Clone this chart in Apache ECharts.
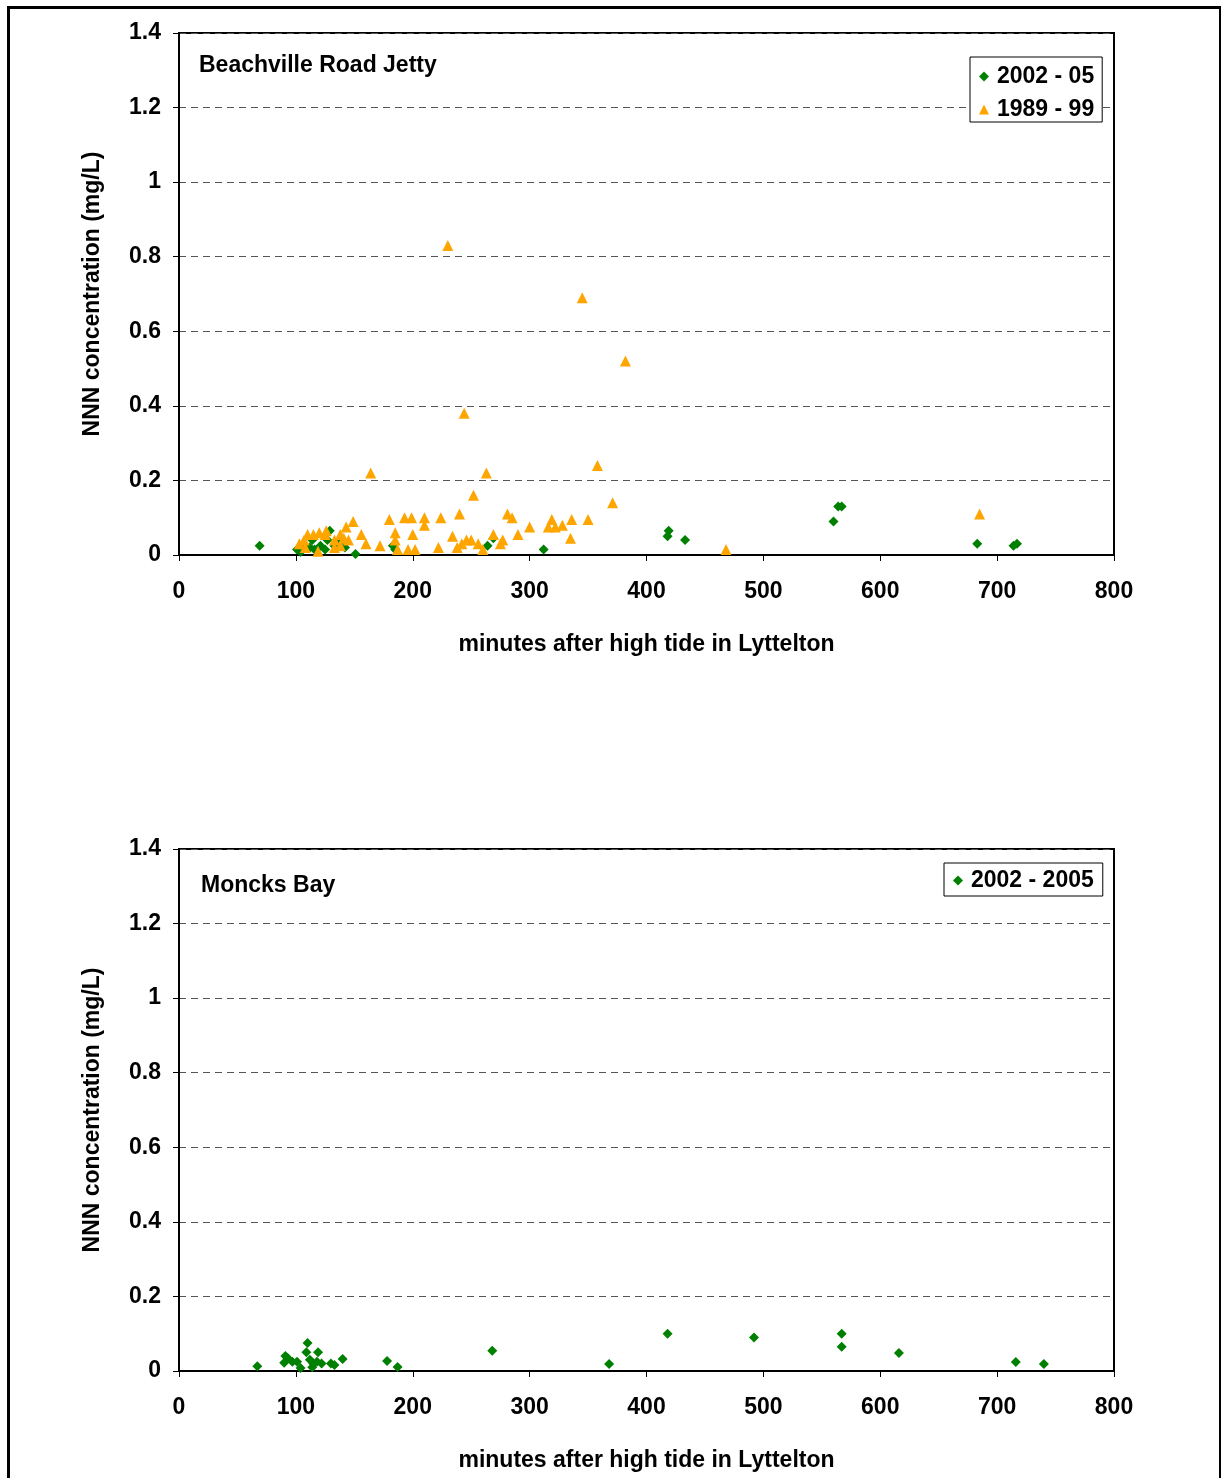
<!DOCTYPE html>
<html>
<head>
<meta charset="utf-8">
<script src="https://cdn.jsdelivr.net/npm/echarts@6/dist/echarts.min.js"></script>
<style>
html,body{margin:0;padding:0;background:#fff;}
#frame{position:absolute;left:7px;top:6px;width:1209px;height:1500px;border-left:3px solid #000;border-top:3px solid #000;border-right:2px solid #000;}
#c{position:absolute;left:0;top:0;width:1224px;height:1478px;}
</style>
</head>
<body>
<div id="frame"></div>
<div id="c"></div>
<script>
// ---- data ----
const xTicks = [0, 100, 200, 300, 400, 500, 600, 700, 800];
const yTicks = [0, 0.2, 0.4, 0.6, 0.8, 1, 1.2, 1.4];

const titleTop = "Beachville Road Jetty";
const titleBottom = "Moncks Bay";
const xName = "minutes after high tide in Lyttelton";
const yName = "NNN concentration (mg/L)";

const nameTopRecent = "2002 - 05";
const nameTopOld = "1989 - 99";
const nameBottom = "2002 - 2005";

// Beachville Road Jetty, 2002-05 (green diamonds)
const beachRecent = [
  [69,0.025],[101,0.015],[104,0.008],[108,0.025],[112,0.02],[114,0.04],[116,0.015],
  [121,0.025],[125,0.015],[127,0.04],[129,0.065],[133,0.025],[138,0.035],[142,0.02],
  [151,0.003],[183,0.025],[185,0.015],[264,0.025],[269,0.045],[312,0.015],
  [418,0.05],[419,0.065],[433,0.04],[560,0.09],[564,0.13],[567,0.13],
  [683,0.03],[714,0.025],[717,0.03]
];

// Beachville Road Jetty, 1989-99 (orange triangles)
const beachOld = [
  [230,0.83],[345,0.69],[382,0.52],[244,0.38],[358,0.24],[164,0.22],[263,0.22],
  [252,0.16],[371,0.14],[685,0.11],[240,0.11],[281,0.11],[285,0.10],[149,0.09],
  [180,0.095],[193,0.10],[199,0.10],[210,0.10],[224,0.10],[319,0.095],[336,0.095],
  [350,0.095],[328,0.08],[300,0.075],[316,0.075],[322,0.075],[143,0.075],[210,0.08],
  [269,0.055],[290,0.055],[156,0.055],[185,0.06],[200,0.055],[234,0.05],[335,0.045],
  [250,0.04],[277,0.04],[160,0.03],[172,0.025],[185,0.04],[222,0.02],[238,0.02],
  [242,0.03],[256,0.03],[260,0.015],[275,0.03],[187,0.015],[196,0.015],[202,0.015],
  [468,0.015],[103,0.03],[107,0.04],[110,0.055],[115,0.055],[120,0.06],[126,0.065],
  [125,0.055],[133,0.04],[138,0.055],[141,0.045],[145,0.04],[119,0.01],[108,0.02],
  [133,0.02],[138,0.025],[246,0.04]
];

// Moncks Bay, 2002-2005 (green diamonds)
const moncks = [
  [67,0.013],[90,0.022],[91,0.04],[93,0.035],[97,0.025],[101,0.025],[104,0.008],
  [109,0.05],[110,0.075],[112,0.03],[114,0.01],[115,0.02],[119,0.05],[118,0.025],
  [122,0.02],[130,0.02],[133,0.016],[140,0.032],[178,0.027],[187,0.011],[268,0.054],
  [368,0.019],[418,0.1],[492,0.09],[567,0.1],[567,0.065],[616,0.048],[716,0.024],
  [740,0.019]
];

// ---- chart ----
const FONT = "Liberation Sans, Arial, sans-serif";
const FS = 23;
const green = "#008000";
const orange = "#FFA500";
const diamond = "diamond";
const triangle = "triangle";

function xAxis(gi){
  return {
    gridIndex: gi, type: "value", min: xTicks[0], max: xTicks[xTicks.length-1], interval: 100,
    name: xName, nameLocation: "middle", nameGap: 78,
    nameTextStyle: {fontFamily: FONT, fontWeight: "bold", fontSize: FS, color: "#000"},
    axisLine: {show: true, onZero: false, lineStyle: {color: "#000", width: 2}},
    axisTick: {show: true, inside: false, length: 6, lineStyle: {color: "#000", width: 1}},
    axisLabel: {fontFamily: FONT, fontWeight: "bold", fontSize: FS, color: "#000", margin: 25},
    splitLine: {show: false}
  };
}
function yAxis(gi){
  return {
    gridIndex: gi, type: "value", min: yTicks[0], max: yTicks[yTicks.length-1], interval: 0.2,
    name: yName, nameLocation: "middle", nameGap: 75, nameRotate: 90,
    nameTextStyle: {fontFamily: FONT, fontWeight: "bold", fontSize: FS, color: "#000"},
    axisLine: {show: true, onZero: false, lineStyle: {color: "#000", width: 2}},
    axisTick: {show: true, inside: false, length: 6, lineStyle: {color: "#000", width: 1}},
    axisLabel: {fontFamily: FONT, fontWeight: "bold", fontSize: FS, color: "#000", margin: 18,
      padding: [3, 0, 0, 0],
      formatter: v => String(Math.round(v*10)/10)},
    splitLine: {show: true, lineStyle: {color: "#555", width: 1, type: [7,5]}}
  };
}

const chart = echarts.init(document.getElementById("c"), null, {renderer: "canvas"});
chart.setOption({
  animation: false,
  backgroundColor: "transparent",
  grid: [
    {left: 179, top: 33, width: 935, height: 522, show: true, borderColor: "#000", borderWidth: 2, backgroundColor: "transparent"},
    {left: 179, top: 849, width: 935, height: 522, show: true, borderColor: "#000", borderWidth: 2, backgroundColor: "transparent"}
  ],
  title: [
    {text: titleTop, left: 199, top: 54, textStyle: {fontFamily: FONT, fontWeight: "bold", fontSize: FS, color: "#000"}, padding: 0},
    {text: titleBottom, left: 201, top: 874, textStyle: {fontFamily: FONT, fontWeight: "bold", fontSize: FS, color: "#000"}, padding: 0}
  ],
  xAxis: [xAxis(0), xAxis(1)],
  yAxis: [yAxis(0), yAxis(1)],
  legend: [
    {data: [{name: nameTopRecent, icon: diamond}, {name: nameTopOld, icon: triangle}],
     orient: "vertical", left: 970, top: 57, itemGap: 10, itemWidth: 10, itemHeight: 10,
     padding: [8, 8, 1, 9], borderColor: "#000", borderWidth: 1, backgroundColor: "#fff",
     textStyle: {fontFamily: FONT, fontWeight: "bold", fontSize: FS, color: "#000", padding: [0,0,0,3]}},
    {data: [{name: nameBottom, icon: diamond}],
     orient: "vertical", left: 944, top: 863, itemWidth: 10, itemHeight: 10,
     padding: [6, 9, 4, 9], borderColor: "#000", borderWidth: 1, backgroundColor: "#fff",
     textStyle: {fontFamily: FONT, fontWeight: "bold", fontSize: FS, color: "#000", padding: [0,0,0,3]}}
  ],
  series: [
    {name: nameTopRecent, type: "scatter", xAxisIndex: 0, yAxisIndex: 0, data: beachRecent,
     symbol: diamond, symbolSize: 10, itemStyle: {color: green, opacity: 1}, z: 3},
    {name: nameTopOld, type: "scatter", xAxisIndex: 0, yAxisIndex: 0, data: beachOld,
     symbol: triangle, symbolSize: 11, itemStyle: {color: orange, opacity: 1}, z: 4},
    {name: nameBottom, type: "scatter", xAxisIndex: 1, yAxisIndex: 1, data: moncks,
     symbol: diamond, symbolSize: 10, itemStyle: {color: green, opacity: 1}, z: 3}
  ]
});
</script>
</body>
</html>
